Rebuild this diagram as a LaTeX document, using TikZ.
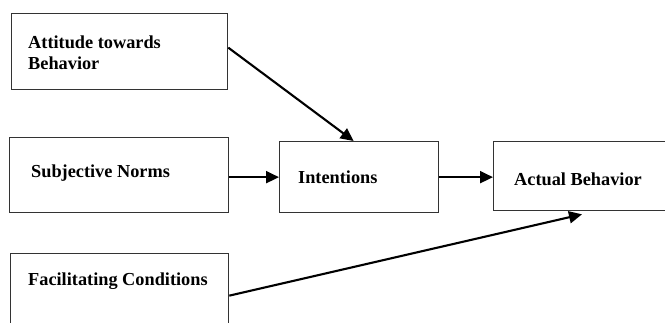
\documentclass[tikz,border=0pt]{standalone}
\usepackage{fontspec}
\setmainfont{Liberation Serif}
\usetikzlibrary{arrows.meta}
\begin{document}
\begin{tikzpicture}[x=1pt,y=-1pt,
  box/.style={draw=black!80, line width=1.3pt, rectangle, inner sep=0pt, anchor=north west},
  lbl/.style={anchor=base west, inner sep=0pt, font=\fontsize{18.3}{21}\selectfont\bfseries, align=left},
  arr/.style={line width=2.1pt, -{Triangle[length=13pt,width=12pt]}}]
\useasboundingbox (0,0) rectangle (665,322);
\node[box, minimum width=216pt, minimum height=76pt] (att) at (11,13) {};
\node[box, minimum width=219pt, minimum height=75pt] (sub) at (9,137) {};
\node[box, minimum width=218pt, minimum height=90pt] (fac) at (10,253) {};
\node[box, minimum width=159pt, minimum height=71pt] (int) at (279,141) {};
\node[box, minimum width=190pt, minimum height=69pt] (act) at (493,141) {};
\node[lbl] (attT) at ([xshift=17pt,yshift=-56pt]att.north west) {Attitude towards\\Behavior};
\node[lbl] (subT) at ([xshift=22pt,yshift=-40pt]sub.north west) {Subjective Norms};
\node[lbl] (facT) at ([xshift=18pt,yshift=-32pt]fac.north west) {Facilitating Conditions};
\node[lbl] (intT) at ([xshift=19pt,yshift=-42pt]int.north west) {Intentions};
\node[lbl] (actT) at ([xshift=21pt,yshift=-44pt]act.north west) {Actual Behavior};
\draw[arr] ([yshift=4pt]att.east) -- ([xshift=-5.5pt]int.north);
\draw[arr] (sub.east |- int.west) -- (int.west);
\draw[arr] (int.east) -- (int.east -| act.west);
\draw[arr] ([yshift=3pt]fac.east) -- ([xshift=89pt,yshift=-3pt]act.south west);
\end{tikzpicture}
\end{document}
